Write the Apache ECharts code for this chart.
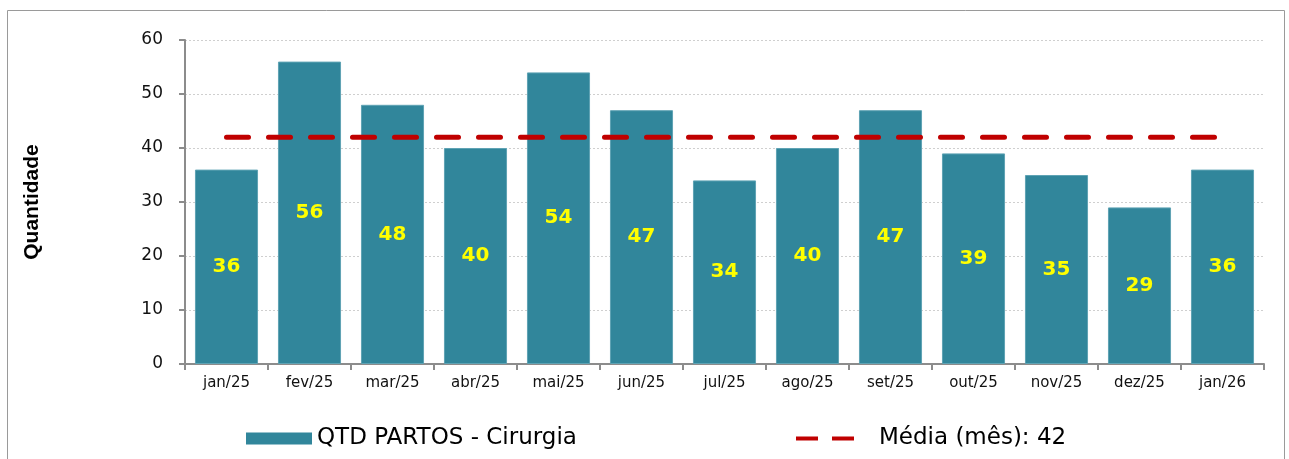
<!DOCTYPE html>
<html>
<head>
<meta charset="utf-8">
<script src="https://cdn.jsdelivr.net/npm/echarts@6/dist/echarts.min.js"></script>
<style>
  html, body { margin: 0; padding: 0; background: #fff; }
  #chart { width: 1289px; height: 459px; }
</style>
</head>
<body>
<div id="chart"></div>
<script>
// partos por mes
var meses = ['jan/25', 'fev/25', 'mar/25', 'abr/25', 'mai/25', 'jun/25', 'jul/25', 'ago/25', 'set/25', 'out/25', 'nov/25', 'dez/25', 'jan/26'];
var partos = [36, 56, 48, 40, 54, 47, 34, 40, 47, 39, 35, 29, 36];
var media = [42, 42, 42, 42, 42, 42, 42, 42, 42, 42, 42, 42, 42];
var nomeBarra = 'QTD PARTOS - Cirurgia';
var nomeMedia = 'Média (mês): 42';

var myChart = echarts.init(document.getElementById('chart'));
var option = {
    animation: false,
    graphic: [
        {
            type: 'rect',
            shape: { x: 7.5, y: 10.5, width: 1277, height: 470 },
            style: { fill: 'none', stroke: '#9a9a9a', lineWidth: 1 },
            silent: true
        }
    ],
    legend: [
        {
            left: 241,
            top: 422,
            itemWidth: 66,
            itemHeight: 12,
            itemGap: 10,
            icon: 'rect',
            itemStyle: { borderWidth: 0 },
            textStyle: { fontFamily: 'DejaVu Sans', fontSize: 23, color: '#000' },
            data: [nomeBarra]
        },
        {
            left: 791,
            top: 422,
            itemWidth: 58,
            itemHeight: 12,
            itemGap: 10,
            textStyle: { fontFamily: 'DejaVu Sans', fontSize: 23, color: '#000', padding: [0, 0, 0, 20] },
            data: [{ name: nomeMedia, icon: 'path://M0,5 L22,5 L22,9 L0,9 Z M36,5 L58,5 L58,9 L36,9 Z' }]
        }
    ],
    grid: {
        left: 185,
        right: 25,
        top: 40,
        bottom: 95
    },
    xAxis: {
        type: 'category',
        data: meses,
        axisLine: { lineStyle: { color: '#8c8c8c', width: 2 } },
        axisTick: { show: true, length: 6, lineStyle: { color: '#8c8c8c', width: 2 } },
        axisLabel: { fontFamily: 'DejaVu Sans', fontSize: 15, color: '#111', margin: 12 }
    },
    yAxis: {
        type: 'value',
        min: 0,
        max: 60,
        interval: 10,
        name: 'Quantidade',
        nameLocation: 'middle',
        nameGap: 142,
        nameRotate: 90,
        nameTextStyle: { fontFamily: 'Liberation Sans', fontWeight: 'bold', fontSize: 21, color: '#000' },
        axisLine: { show: true, lineStyle: { color: '#8c8c8c', width: 2 } },
        axisTick: { show: true, length: 6, lineStyle: { color: '#8c8c8c', width: 2 } },
        axisLabel: { fontFamily: 'DejaVu Sans', fontSize: 17, color: '#111', margin: 22 },
        splitLine: { show: true, lineStyle: { color: '#cfcfcf', type: [2, 2], width: 1 } }
    },
    series: [
        {
            name: nomeBarra,
            type: 'bar',
            data: partos,
            barCategoryGap: '24%',
            itemStyle: { color: '#31869b', borderColor: '#5fa3b4', borderWidth: 1 },
            label: {
                show: true,
                position: 'inside',
                color: '#ffff00',
                fontFamily: 'DejaVu Sans',
                fontWeight: 'bold',
                fontSize: 20
            }
        },
        {
            name: nomeMedia,
            type: 'line',
            data: media,
            symbol: 'none',
            itemStyle: { color: '#c00000' },
            lineStyle: { color: '#c00000', width: 5, type: [22, 20], cap: 'round' },
            z: 5
        }
    ]
};

myChart.setOption(option);
window.onresize = myChart.resize;
</script>
</body>
</html>
